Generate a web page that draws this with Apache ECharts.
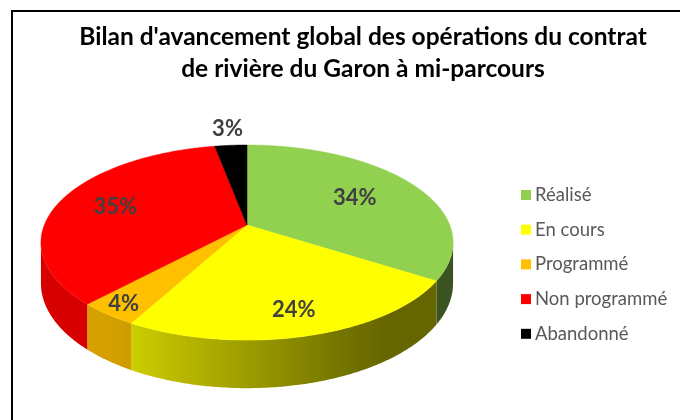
<!DOCTYPE html>
<html>
<head>
<meta charset="utf-8">
<script src="https://cdn.jsdelivr.net/npm/echarts@6/dist/echarts.min.js"></script>
<style>
  html, body { margin: 0; padding: 0; background: #fff; }
  #chart { width: 680px; height: 420px; }
</style>
</head>
<body>
<div id="chart"></div>
<script>
// data
const categories = ['Réalisé', 'En cours', 'Programmé', 'Non programmé', 'Abandonné'];
const shares = [34, 24, 4, 35, 3];
const colors = ['#92d050', '#ffff00', '#ffc000', '#ff0000', '#000000'];

// look of the 3d pie
const CX = 247, CY = 225;      // pie centre on the top face
const RX = 202.7, RY = 94.4;   // half axes before perspective
const PERSP = 0.18;            // perspective strength
const THICK = 39.4;            // height of the side
const LABEL_R = [0.64, 0.8, 0.9, 0.7, 1.25];

const total = shares.reduce((a, b) => a + b, 0);

function proj(theta, r, t) {
  const X = r * Math.sin(theta), Z = r * Math.cos(theta);
  const d = 1 + PERSP * Z;
  return [CX + RX * X / d, CY + (-RY * Z + t) / d];
}

function shade(hex, f) {
  const n = parseInt(hex.slice(1), 16);
  const c = [(n >> 16) & 255, (n >> 8) & 255, n & 255].map(v => Math.round(v * f));
  return 'rgb(' + c.join(',') + ')';
}
function light(x) {
  const f = 0.80 - (x - 133) * 0.39 / 237;
  return Math.max(0.40, Math.min(0.84, f));
}

const thL = Math.acos(-PERSP), thR = 2 * Math.PI - thL;

function renderSlice(idx) {
  return function (params, api) {
    const start = api.value(0), val = api.value(1);
    const t1 = start / total * 2 * Math.PI;
    const t2 = (start + val) / total * 2 * Math.PI;
    const children = [];
    const step = Math.PI / 360;

    // side
    const s1 = Math.max(t1, thL), s2 = Math.min(t2, thR);
    if (s2 > s1) {
      const topPts = [], botPts = [];
      for (let t = s1; t < s2; t += step) {
        topPts.push(proj(t, 1, 0));
        botPts.push(proj(t, 1, THICK));
      }
      topPts.push(proj(s2, 1, 0));
      botPts.push(proj(s2, 1, THICK));
      const pts = topPts.concat(botPts.reverse());
      const xs = pts.map(p => p[0]);
      const x0 = Math.min(...xs), x1 = Math.max(...xs);
      const stops = [];
      for (let i = 0; i <= 6; i++) {
        const x = x0 + (x1 - x0) * i / 6;
        stops.push({ offset: i / 6, color: shade(colors[idx], light(x)) });
      }
      children.push({
        type: 'polygon',
        z2: 1,
        shape: { points: pts },
        style: {
          fill: { type: 'linear', x: x0, y: 0, x2: x1 + 0.01, y2: 0, global: true, colorStops: stops },
          stroke: null
        }
      });
    }

    // top face
    const face = [proj(0, 0, 0)];
    for (let t = t1; t < t2; t += step) face.push(proj(t, 1, 0));
    face.push(proj(t2, 1, 0));
    children.push({
      type: 'polygon',
      z2: 5,
      shape: { points: face },
      style: { fill: colors[idx], stroke: colors[idx], lineWidth: 0.5 }
    });

    // label
    const lp = proj((t1 + t2) / 2, LABEL_R[idx], 0);
    children.push({
      type: 'text',
      z2: 10,
      style: {
        text: val + '%',
        x: lp[0], y: lp[1],
        align: 'center', verticalAlign: 'middle',
        font: 'bold 22px Lato',
        fill: '#404040'
      }
    });
    return { type: 'group', children: children };
  };
}

let acc = 0;
const series = categories.map((name, i) => {
  const s = {
    type: 'custom',
    name: name,
    coordinateSystem: 'none',
    itemStyle: { color: colors[i] },
    data: [[acc, shares[i]]],
    renderItem: renderSlice(i)
  };
  acc += shares[i];
  return s;
});

const chart = echarts.init(document.getElementById('chart'));
chart.setOption({
  animation: false,
  title: {
    text: "Bilan d'avancement global des opérations du contrat\nde rivière du Garon à mi-parcours",
    left: 358,
    top: 16,
    textAlign: 'center',
    textStyle: { fontFamily: 'Lato', fontWeight: 'bold', fontSize: 24.5, lineHeight: 32, color: '#000' }
  },
  legend: {
    orient: 'vertical',
    left: 516,
    top: 180,
    icon: 'rect',
    itemWidth: 10,
    itemHeight: 10,
    itemGap: 14.7,
    data: categories,
    textStyle: { fontFamily: 'Lato', fontSize: 18.5, lineHeight: 20, color: '#595959', padding: [0, 0, 0, -1] }
  },
  graphic: [{
    type: 'rect',
    shape: { x: 12, y: 11, width: 800, height: 600 },
    style: { fill: null, stroke: '#000', lineWidth: 2 },
    silent: true
  }],
  series: series
});
</script>
</body>
</html>
